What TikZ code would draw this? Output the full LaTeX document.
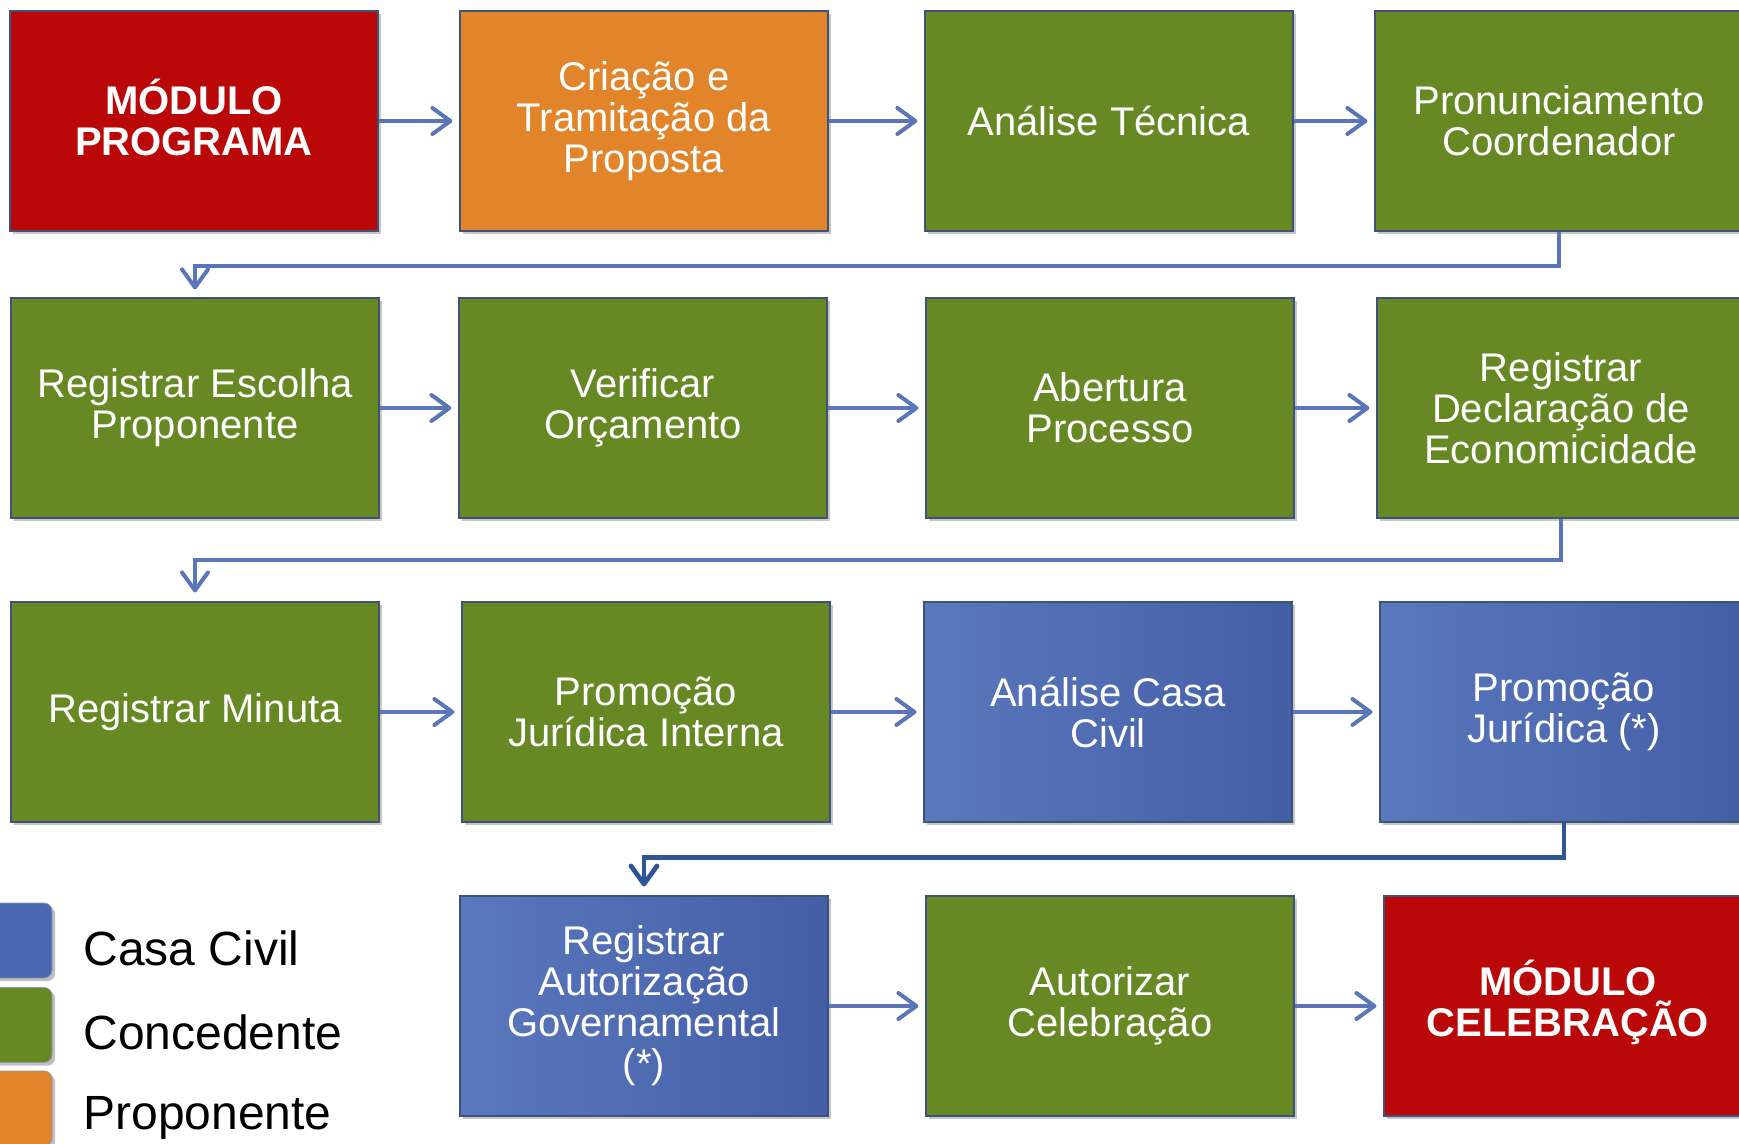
\documentclass[tikz,border=0pt]{standalone}
\usepackage{fontspec}
\setmainfont{Liberation Sans}
\usetikzlibrary{arrows.meta,shadows}
\definecolor{cred}{RGB}{186,8,8}
\definecolor{corange}{RGB}{226,132,42}
\definecolor{cgreen}{RGB}{103,137,36}
\definecolor{cblue}{RGB}{75,104,178}
\definecolor{cbluel}{RGB}{90,120,190}
\definecolor{cblued}{RGB}{68,94,166}
\definecolor{carrow}{RGB}{91,118,184}
\definecolor{carrowd}{RGB}{47,85,151}
\definecolor{cedge}{RGB}{62,82,122}
\begin{document}
\begin{tikzpicture}[x=0.5pt,y=-0.5pt,
  box/.style={rectangle, minimum width=184pt, minimum height=110pt, inner sep=0pt,
    draw=cedge, line width=0.6pt, text=white, align=center,
    font=\fontsize{20}{20.5}\selectfont,
    drop shadow={shadow xshift=1.6pt,shadow yshift=-1.6pt,opacity=0.45}},
  redbox/.style={box, fill=cred, font=\fontsize{20}{20.5}\selectfont\bfseries},
  orangebox/.style={box, fill=corange},
  greenbox/.style={box, fill=cgreen},
  bluebox/.style={box, left color=cbluel, right color=cblued},
  flow/.style={draw=carrow, line width=2pt, -{Straight Barb[length=9pt,width=13pt,line cap=round,line join=round]}},
  flowd/.style={flow, draw=carrowd, line width=2.4pt},
  legsq/.style={rectangle, rounded corners=4pt, minimum width=37.5pt, minimum height=37.5pt,
    inner sep=0pt, draw=cedge!60, line width=0.4pt,
    drop shadow={shadow xshift=1.6pt,shadow yshift=-1.6pt,opacity=0.5}},
  legtxt/.style={anchor=west, inner sep=0pt, font=\fontsize{24}{26}\selectfont}
]
\useasboundingbox (0,0) rectangle (1739,1144);

% row 1
\node[redbox] (b1) at (194,121) {M\smash{Ó}DULO\\PROGRAMA};
\node[orangebox] (b2) at (644,121) {Criação e\\Tramitação da\\Proposta};
\node[greenbox] (b3) at (1109,121) {Análise Técnica};
\node[greenbox] (b4) at (1559,121) {Pronunciamento\\Coordenador};
% row 2
\node[greenbox] (b5) at (195,408) {Registrar Escolha\\Proponente};
\node[greenbox] (b6) at (643,408) {Verificar\\Orçamento};
\node[greenbox] (b7) at (1110,408) {Abertura\\Processo};
\node[greenbox] (b8) at (1561,408) {Registrar\\Declaração de\\Economicidade};
% row 3
\node[greenbox] (b9) at (195,712) {Registrar Minuta};
\node[greenbox] (b10) at (646,712) {Promoção\\Jurídica Interna};
\node[bluebox] (b11) at (1108,712) {Análise Casa\\Civil};
\node[bluebox] (b12) at (1564,712) {Promoção\\Jurídica (*)};
% row 4
\node[bluebox] (b13) at (644,1006) {Registrar\\Autorização\\Governamental\\(*)};
\node[greenbox] (b14) at (1110,1006) {Autorizar\\Celebração};
\node[redbox] (b15) at (1568,1006) {M\smash{Ó}DULO\\CELEBRAÇÃO};

% horizontal arrows
\draw[flow] (b1.east) -- ([xshift=-3.5pt]b2.west);
\draw[flow] (b2.east) -- ([xshift=-3.5pt]b3.west);
\draw[flow] (b3.east) -- ([xshift=-3.5pt]b4.west);
\draw[flow] (b5.east) -- ([xshift=-3.5pt]b6.west);
\draw[flow] (b6.east) -- ([xshift=-3.5pt]b7.west);
\draw[flow] (b7.east) -- ([xshift=-3.5pt]b8.west);
\draw[flow] (b9.east) -- ([xshift=-3.5pt]b10.west);
\draw[flow] (b10.east) -- ([xshift=-3.5pt]b11.west);
\draw[flow] (b11.east) -- ([xshift=-3.5pt]b12.west);
\draw[flow] (b13.east) -- ([xshift=-3.5pt]b14.west);
\draw[flow] (b14.east) -- ([xshift=-3.5pt]b15.west);

% row connectors
\draw[flow] (b4.south) -- ++(0,34) -| ([yshift=4pt]b5.north);
\draw[flow] (b8.south) -- ++(0,41) -| ([yshift=4.5pt]b9.north);
\draw[flowd] (b12.south) -- ++(0,35) -| ([yshift=4.5pt]b13.north);

% legend
\node[legsq, fill=cblue] (l1) at (14.5,940.5) {};
\node[legsq, fill=cgreen] (l2) at (14.5,1025) {};
\node[legsq, fill=corange] (l3) at (14.5,1108.5) {};
\node[legtxt] (t1) at (83,948) {Casa Civil};
\node[legtxt] (t2) at (83,1032) {Concedente};
\node[legtxt] (t3) at (83,1118) {Proponente};
\end{tikzpicture}
\end{document}
